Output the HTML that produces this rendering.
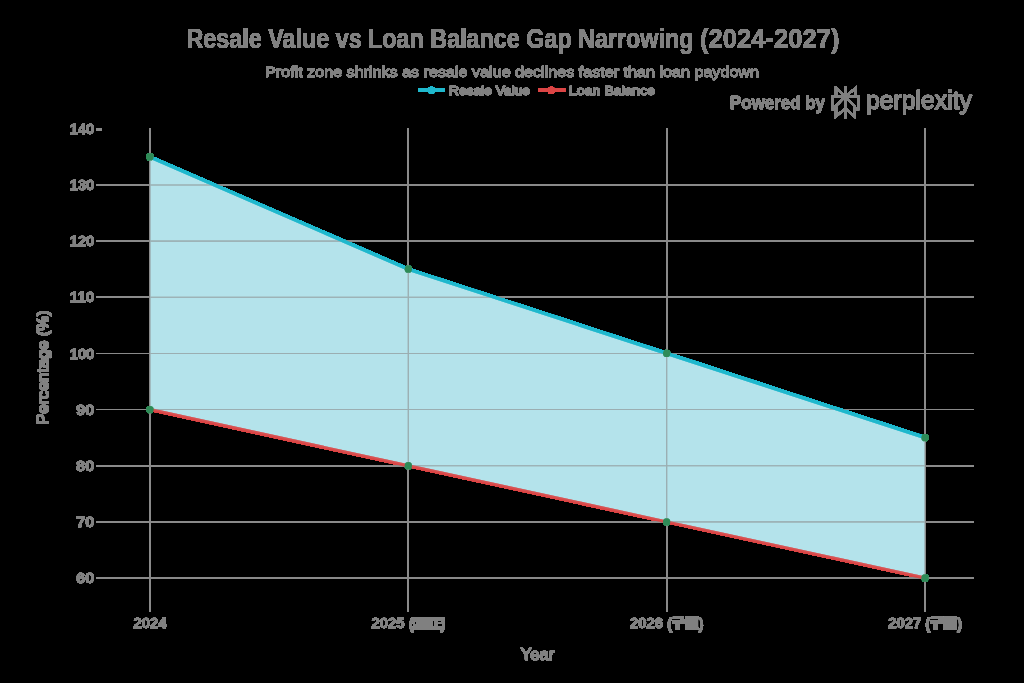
<!DOCTYPE html><html><head><meta charset="utf-8"><style>html,body{margin:0;padding:0;background:#000;width:1024px;height:683px;overflow:hidden}svg{display:block}text{font-family:"Liberation Sans",sans-serif;fill:#808080;stroke:#808080;stroke-width:0;stroke-linejoin:round}.s1{stroke-width:0.4px}.s2{stroke-width:0.7px}.b{font-weight:bold}</style></head><body>
<svg width="1024" height="683" viewBox="0 0 1024 683">
<defs><filter id="th" x="0" y="0" width="1024" height="683" filterUnits="userSpaceOnUse" color-interpolation-filters="sRGB"><feComponentTransfer><feFuncA type="linear" slope="30" intercept="0"/></feComponentTransfer></filter>
</defs>
<g filter="url(#th)">
<line x1="96" x2="974" y1="578.00" y2="578.00" stroke="#8a8a8a" stroke-width="1.1"/>
<line x1="96" x2="974" y1="521.86" y2="521.86" stroke="#8a8a8a" stroke-width="1.1"/>
<line x1="96" x2="974" y1="465.71" y2="465.71" stroke="#8a8a8a" stroke-width="1.1"/>
<line x1="96" x2="974" y1="409.57" y2="409.57" stroke="#8a8a8a" stroke-width="1.1"/>
<line x1="96" x2="974" y1="353.43" y2="353.43" stroke="#8a8a8a" stroke-width="1.1"/>
<line x1="96" x2="974" y1="297.28" y2="297.28" stroke="#8a8a8a" stroke-width="1.1"/>
<line x1="96" x2="974" y1="241.14" y2="241.14" stroke="#8a8a8a" stroke-width="1.1"/>
<line x1="96" x2="974" y1="185.00" y2="185.00" stroke="#8a8a8a" stroke-width="1.1"/>
<line x1="96.2" x2="101.8" y1="129.5" y2="129.5" stroke="#8a8a8a" stroke-width="2"/>
<line x1="150" x2="150" y1="128.5" y2="611.5" stroke="#8a8a8a" stroke-width="1.1"/>
<line x1="408.33" x2="408.33" y1="128.5" y2="611.5" stroke="#8a8a8a" stroke-width="1.1"/>
<line x1="666.67" x2="666.67" y1="128.5" y2="611.5" stroke="#8a8a8a" stroke-width="1.1"/>
<line x1="925" x2="925" y1="128.5" y2="611.5" stroke="#8a8a8a" stroke-width="1.1"/>
<polygon points="150,156.93 408.33,269.21 666.67,353.43 925,437.64 925,578.00 666.67,521.86 408.33,465.71 150,409.57" fill="#b4e4ea" fill-opacity="0.4"/>
<polyline fill="none" stroke="#DB4545" stroke-width="3" stroke-opacity="0.8" points="150,409.57 408.33,465.71 666.67,521.86 925,578.00"/>
<polyline fill="none" stroke="#1FB8CD" stroke-width="3.3" points="150,156.93 408.33,269.21 666.67,353.43 925,437.64"/>
<circle cx="150" cy="156.93" r="3.65" fill="#2E8B57"/>
<circle cx="408.33" cy="269.21" r="3.65" fill="#2E8B57"/>
<circle cx="666.67" cy="353.43" r="3.65" fill="#2E8B57"/>
<circle cx="925" cy="437.64" r="3.65" fill="#2E8B57"/>
<circle cx="150" cy="409.57" r="3.65" fill="#2E8B57"/>
<circle cx="408.33" cy="465.71" r="3.65" fill="#2E8B57"/>
<circle cx="666.67" cy="521.86" r="3.65" fill="#2E8B57"/>
<circle cx="925" cy="578.00" r="3.65" fill="#2E8B57"/>
<text x="76.30" y="583.10" font-size="14.5" class="b s1" textLength="18" lengthAdjust="spacingAndGlyphs">60</text>
<text x="76.30" y="526.96" font-size="14.5" class="b s1" textLength="18" lengthAdjust="spacingAndGlyphs">70</text>
<text x="76.30" y="470.81" font-size="14.5" class="b s1" textLength="18" lengthAdjust="spacingAndGlyphs">80</text>
<text x="76.30" y="414.67" font-size="14.5" class="b s1" textLength="18" lengthAdjust="spacingAndGlyphs">90</text>
<text x="69.80" y="358.53" font-size="14.5" class="b s1" textLength="24.5" lengthAdjust="spacingAndGlyphs">100</text>
<text x="69.80" y="302.38" font-size="14.5" class="b s1" textLength="24.5" lengthAdjust="spacingAndGlyphs">110</text>
<text x="69.80" y="246.24" font-size="14.5" class="b s1" textLength="24.5" lengthAdjust="spacingAndGlyphs">120</text>
<text x="69.80" y="190.10" font-size="14.5" class="b s1" textLength="24.5" lengthAdjust="spacingAndGlyphs">130</text>
<text x="69.80" y="133.96" font-size="14.5" class="b s1" textLength="24.5" lengthAdjust="spacingAndGlyphs">140</text>
<text x="133.5" y="627.6" font-size="14.5" class="b s1" textLength="33" lengthAdjust="spacingAndGlyphs">2024</text>
<text x="371.63" y="627.6" font-size="14.5" class="b s1" textLength="33" lengthAdjust="spacingAndGlyphs">2025</text>
<text x="408.93" y="628.5" font-size="14" class="s2" font-weight="bold">(</text>
<path fill="#808080" fill-rule="evenodd" d="M413.63,617.2 h30.5 v12 h-30.5z M414.83,618.6 h1.6 v1.2 h-1.6z M418.63,618.6 h1.8 v1.2 h-1.8z M414.23,621.2 h1.8 v3.3 h-1.8z M432.63,620.6 h1.6 v5.6 h-1.6z M437.63,620.6 h4.5 v2 h-4.5z M437.63,624 h4.5 v2.2 h-4.5z"/>
<text x="445.13" y="628.5" font-size="14" class="s2" font-weight="bold" text-anchor="end">)</text>
<text x="629.97" y="627.6" font-size="14.5" class="b s1" textLength="33" lengthAdjust="spacingAndGlyphs">2026</text>
<text x="667.27" y="628.5" font-size="14" class="s2" font-weight="bold">(</text>
<path fill="#808080" d="M672.9699999999999,616.6 h11 v2 h-11z M672.3699999999999,620.6 h13.4 v2.6 h-13.4z M675.3699999999999,623 h3.8 v6.4 h-3.8z M685.5699999999999,616.4 h12.6 v13 h-12.6z M680.3699999999999,619 h5.6 v1.4 h-5.6z"/><rect x="698.7699999999999" y="619.8" width="1" height="7" fill="#000"/>
<text x="703.47" y="628.5" font-size="14" class="s2" font-weight="bold" text-anchor="end">)</text>
<text x="888.30" y="627.6" font-size="14.5" class="b s1" textLength="33" lengthAdjust="spacingAndGlyphs">2027</text>
<text x="925.60" y="628.5" font-size="14" class="s2" font-weight="bold">(</text>
<path fill="#808080" d="M931.3,616.6 h11 v2 h-11z M930.6999999999999,620.6 h13.4 v2.6 h-13.4z M933.6999999999999,623 h3.8 v6.4 h-3.8z M943.9,616.4 h12.6 v13 h-12.6z M938.6999999999999,619 h5.6 v1.4 h-5.6z"/><rect x="957.0999999999999" y="619.8" width="1" height="7" fill="#000"/>
<text x="961.80" y="628.5" font-size="14" class="s2" font-weight="bold" text-anchor="end">)</text>
<text x="537.5" y="659.9" font-size="17" class="s2" text-anchor="middle" textLength="34" lengthAdjust="spacingAndGlyphs">Year</text>
<text transform="translate(48.6,367.5) rotate(-90)" font-size="17" text-anchor="middle" textLength="114" lengthAdjust="spacingAndGlyphs">Percentage (%)</text>
<text x="186.5" y="47.7" font-size="27.5" font-weight="bold" textLength="507" lengthAdjust="spacingAndGlyphs">Resale Value vs Loan Balance Gap Narrowing</text>
<text x="700" y="47.7" font-size="27.5" font-weight="bold" textLength="139.5" lengthAdjust="spacingAndGlyphs">(2024-2027)</text>
<text x="512" y="77.0" font-size="14.5" class="s1" text-anchor="middle" textLength="494" lengthAdjust="spacingAndGlyphs">Profit zone shrinks as resale value declines faster than loan paydown</text>
<line x1="418.5" x2="444.5" y1="90.3" y2="90.3" stroke="#1FB8CD" stroke-width="3.4"/><circle cx="431.5" cy="90.3" r="3.6" fill="#1FB8CD"/>
<text x="449" y="94.6" font-size="12.4" class="s2" textLength="81" lengthAdjust="spacingAndGlyphs">Resale Value</text>
<line x1="538.5" x2="565.5" y1="90.3" y2="90.3" stroke="#DB4545" stroke-width="3.4"/><circle cx="551.3" cy="90.3" r="3.6" fill="#DB4545"/>
<text x="569" y="94.6" font-size="12.4" class="s2" textLength="86" lengthAdjust="spacingAndGlyphs">Loan Balance</text>
<text x="730" y="108.6" font-size="18.3" class="s1" font-weight="bold" textLength="95" lengthAdjust="spacingAndGlyphs">Powered by</text>
<path transform="translate(829.4,86.4) scale(1.33)" stroke-miterlimit="1" fill="#808080" stroke="#808080" stroke-width="0.75" d="M22.3977 7.0896h-2.3106V.0676l-7.5094 6.3542V.1577h-1.1554v6.1966L4.4904 0v7.0896H1.6023v10.3976h2.8882V24l6.932-6.3591v6.2005h1.1554v-6.0469l6.9318 6.1807v-6.4879h2.8882V7.0896zm-3.4657-4.531v4.531h-5.355l5.355-4.531zm-13.2862.0676 4.8691 4.4634H5.6458V2.6262zM2.7576 16.332V8.245h7.8476l-6.1149 6.1147v1.9723H2.7576zm2.8882 5.0404v-3.8852h.0001v-2.6488l5.7763-5.7764v7.0111l-5.7764 5.2993zm12.7086.0248-5.7766-5.1509V9.0618l5.7766 5.7766v6.5588zm2.8882-5.0652h-1.733v-1.9723L13.3948 8.245h7.8478v8.087z"/>
<text x="866" y="109.4" font-size="26" class="s2" textLength="106" lengthAdjust="spacingAndGlyphs">perplexity</text>
</g></svg></body></html>
